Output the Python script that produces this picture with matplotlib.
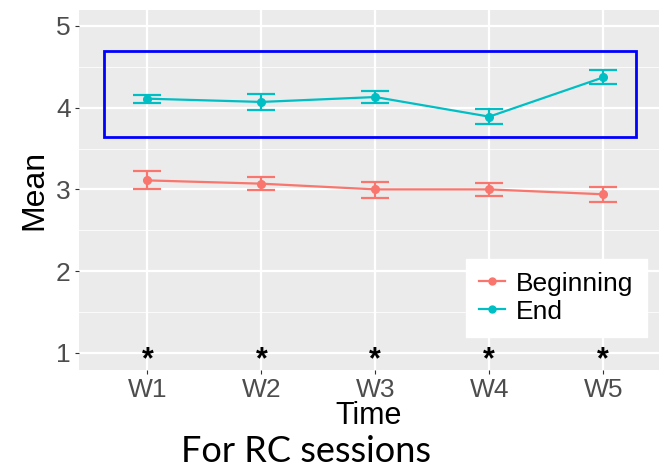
import matplotlib.pyplot as plt
from matplotlib.patches import Rectangle
from matplotlib.lines import Line2D

# ---------- data ----------
weeks = ["W1", "W2", "W3", "W4", "W5"]
begin_mean = [3.11, 3.07, 3.00, 3.00, 2.94]
begin_hi = [3.22, 3.15, 3.09, 3.08, 3.03]
begin_lo = [3.00, 2.99, 2.90, 2.92, 2.85]
end_mean = [4.11, 4.07, 4.13, 3.89, 4.37]
end_hi = [4.16, 4.17, 4.20, 3.98, 4.46]
end_lo = [4.06, 3.97, 4.06, 3.80, 4.29]
star_y = [1, 1, 1, 1, 1]

RED = "#F8766D"
CYAN = "#00BFC4"
GREY_TXT = "#4D4D4D"

plt.rcParams["font.family"] = ["Liberation Sans", "DejaVu Sans"]

fig = plt.figure(figsize=(6.59, 4.69), dpi=100)
ax = fig.add_axes([79 / 659, 1 - 370 / 469, 1 - 79 / 659, 360 / 469])
ax.set_facecolor("#EBEBEB")

x = list(range(1, len(weeks) + 1))


def draw_series(mean, lo, hi, color, label):
    yerr = [[m - l for m, l in zip(mean, lo)], [h - m for m, h in zip(mean, hi)]]
    ax.plot(x, mean, color=color, lw=1.6, zorder=3)
    ax.errorbar(x, mean, yerr=yerr, fmt="o", color=color, ms=5.5,
                capsize=10, capthick=1.6, elinewidth=1.6, zorder=4, label=label)


draw_series(begin_mean, begin_lo, begin_hi, RED, "Beginning")
draw_series(end_mean, end_lo, end_hi, CYAN, "End")

# significance stars
for xi, yi in zip(x, star_y):
    ax.annotate("*", (xi, yi), xytext=(0, -5), textcoords="offset points",
                ha="center", va="center", fontsize=22, fontweight="bold",
                color="black", zorder=5)

ax.set_xlim(0.4, 5.49)
ax.set_ylim(0.79, 5.195)
ax.set_xticks(x)
ax.set_xticklabels(weeks)
ax.set_yticks([1, 2, 3, 4, 5])
ax.set_yticks([1.5, 2.5, 3.5, 4.5], minor=True)
ax.grid(which="major", color="white", lw=1.6)
ax.grid(which="minor", axis="y", color="white", lw=0.8, alpha=0.8)
ax.set_axisbelow(True)
for s in ax.spines.values():
    s.set_visible(False)
ax.tick_params(which="major", length=3, color="#333333", labelsize=19,
               labelcolor=GREY_TXT, pad=3)
ax.tick_params(which="minor", length=0)

ax.set_xlabel("Time", fontsize=22, labelpad=-1)
ax.set_ylabel("Mean", fontsize=23, labelpad=5)

# highlight box around the End series
ax.add_patch(Rectangle((0.623, 3.646), 5.29 - 0.623, 4.695 - 3.646,
                       fill=False, edgecolor="blue", lw=2, zorder=6))

handles = [
    Line2D([], [], color=RED, marker="o", ms=5, lw=1.6),
    Line2D([], [], color=CYAN, marker="o", ms=5, lw=1.6),
]
leg = ax.legend(handles, ["Beginning", "End"], loc="lower left",
                bbox_to_anchor=(0.667, 0.092), borderaxespad=0, fontsize=19,
                frameon=True, fancybox=False, edgecolor="white", framealpha=1,
                handlelength=1.0, handletextpad=0.4, labelspacing=0.15,
                borderpad=0.5)

fig.text(0.465, 0.003, "For RC sessions", ha="center", va="bottom",
         fontsize=26, family=["Lato", "DejaVu Sans"])

fig.savefig("out.png", dpi=100)
